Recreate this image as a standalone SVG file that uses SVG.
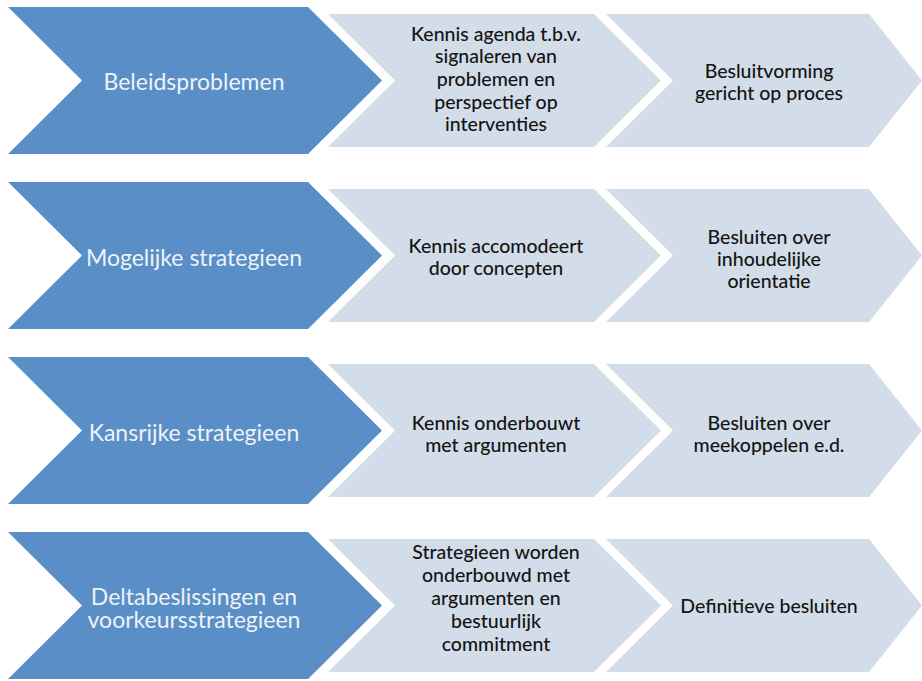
<svg xmlns="http://www.w3.org/2000/svg" width="922" height="681" viewBox="0 0 922 681">
<style>
.b{fill:#5a8ec7}
.l{fill:#d3dce9}
.bt{font-family:Lato,"Open Sans",sans-serif;font-size:23px;fill:#eef2f8;text-anchor:middle}
.lt{font-family:Lato,"Open Sans",sans-serif;font-size:19.5px;font-weight:500;fill:#141414;text-anchor:middle}
</style>
<rect width="922" height="681" fill="#ffffff"/>
<g id="connectors"/>
<!-- Row 1 -->
<g id="r1-blue">
<polygon class="b" points="8,7 308,7 382,80.5 308,154 8,154 82,80.5"/>
<text class="bt" x="194" y="90">Beleidsproblemen</text>
</g>
<g id="r1-kennis">
<polygon class="l" points="328,14 594,14 661,80.5 594,147 328,147 395,80.5"/>
<text class="lt"><tspan x="496" y="40.5">Kennis agenda t.b.v.</tspan><tspan x="496" y="63.2">signaleren van</tspan><tspan x="496" y="85.9">problemen en</tspan><tspan x="496" y="108.6">perspectief op</tspan><tspan x="496" y="131.3">interventies</tspan></text>
</g>
<g id="r1-besluit">
<polygon class="l" points="606,14 869,14 922,80.5 869,147 606,147 673,80.5"/>
<text class="lt"><tspan x="769" y="78">Besluitvorming</tspan><tspan x="769" y="100">gericht op proces</tspan></text>
</g>
<!-- Row 2 -->
<g id="r2-blue">
<polygon class="b" points="8,182 308,182 382,255.5 308,329 8,329 82,255.5"/>
<text class="bt" x="194" y="266">Mogelijke strategieen</text>
</g>
<g id="r2-kennis">
<polygon class="l" points="328,189 594,189 661,255.5 594,322 328,322 395,255.5"/>
<text class="lt"><tspan x="496" y="253">Kennis accomodeert</tspan><tspan x="496" y="275">door concepten</tspan></text>
</g>
<g id="r2-besluit">
<polygon class="l" points="606,189 869,189 922,255.5 869,322 606,322 673,255.5"/>
<text class="lt"><tspan x="769" y="244">Besluiten over</tspan><tspan x="769" y="266">inhoudelijke</tspan><tspan x="769" y="288">orientatie</tspan></text>
</g>
<!-- Row 3 -->
<g id="r3-blue">
<polygon class="b" points="8,357 308,357 382,430.5 308,504 8,504 82,430.5"/>
<text class="bt" x="194" y="441">Kansrijke strategieen</text>
</g>
<g id="r3-kennis">
<polygon class="l" points="328,364 594,364 661,430.5 594,497 328,497 395,430.5"/>
<text class="lt"><tspan x="496" y="430">Kennis onderbouwt</tspan><tspan x="496" y="452">met argumenten</tspan></text>
</g>
<g id="r3-besluit">
<polygon class="l" points="606,364 869,364 922,430.5 869,497 606,497 673,430.5"/>
<text class="lt"><tspan x="769" y="430">Besluiten over</tspan><tspan x="769" y="452">meekoppelen e.d.</tspan></text>
</g>
<!-- Row 4 -->
<g id="r4-blue">
<polygon class="b" points="8,532 308,532 382,605.5 308,679 8,679 82,605.5"/>
<text class="bt"><tspan x="194" y="605">Deltabeslissingen en</tspan><tspan x="194" y="628">voorkeursstrategieen</tspan></text>
</g>
<g id="r4-kennis">
<polygon class="l" points="328,539 594,539 661,605.5 594,672 328,672 395,605.5"/>
<text class="lt"><tspan x="496" y="558.5">Strategieen worden</tspan><tspan x="496" y="581.5">onderbouwd met</tspan><tspan x="496" y="604.5">argumenten en</tspan><tspan x="496" y="627.5">bestuurlijk</tspan><tspan x="496" y="650.5">commitment</tspan></text>
</g>
<g id="r4-besluit">
<polygon class="l" points="606,539 869,539 922,605.5 869,672 606,672 673,605.5"/>
<text class="lt" x="769" y="613">Definitieve besluiten</text>
</g>
</svg>
